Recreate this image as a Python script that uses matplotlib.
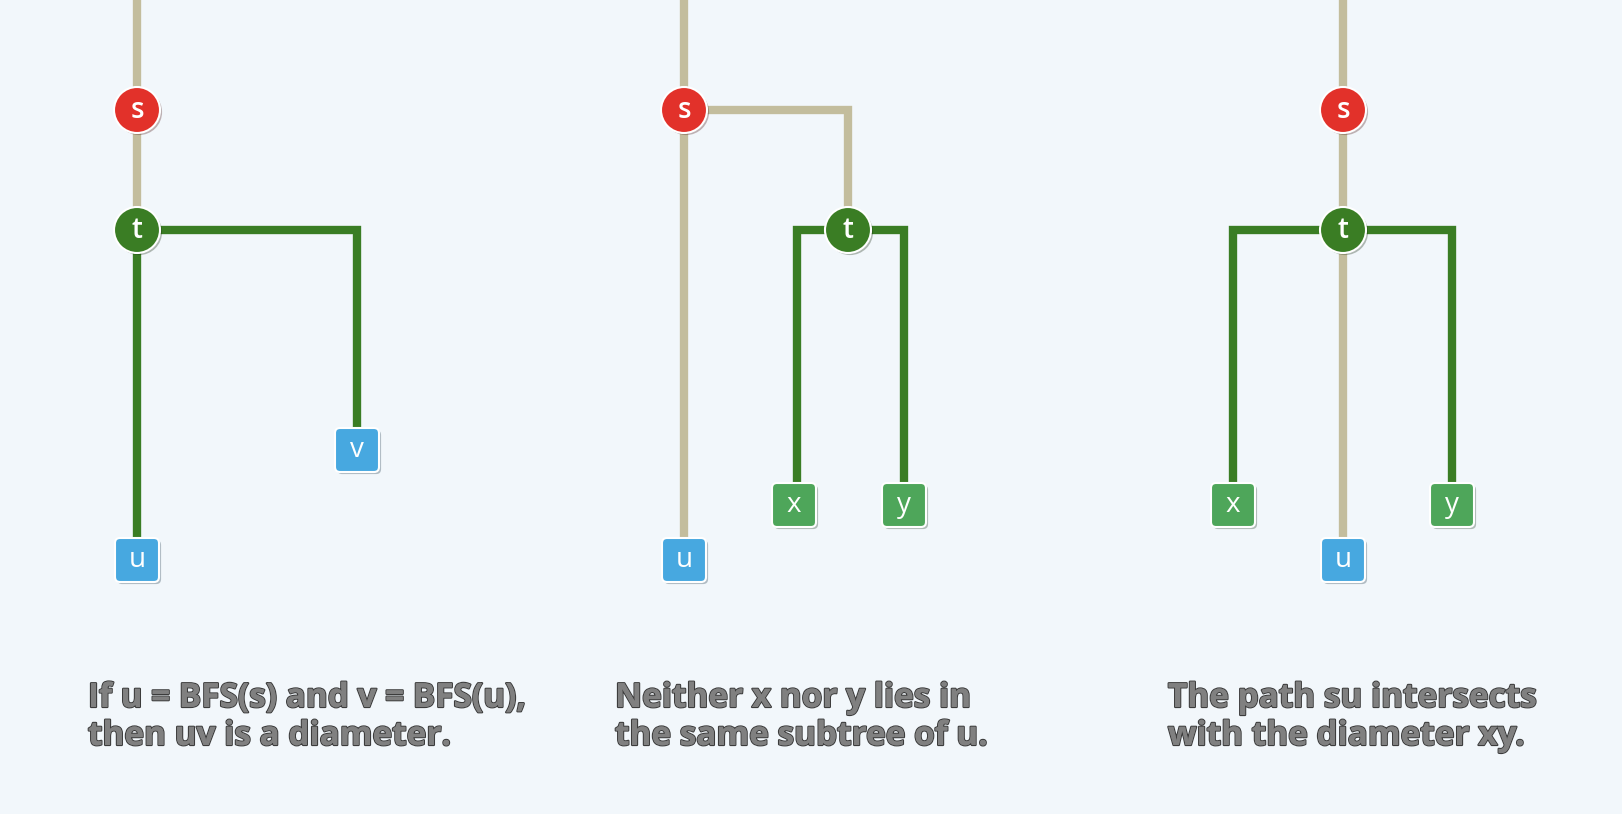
import matplotlib.pyplot as plt
from matplotlib.patches import Circle, FancyBboxPatch
import matplotlib.patheffects as pe

BG = '#f2f7fb'
BEIGE = '#c3bd9d'
DGREEN = '#3a7d24'
RED = '#e2312a'
BLUE = '#47a8e0'
LGREEN = '#4ea65a'

# edges per panel: (points, colour)
edges = [
    ([(137, 0), (137, 230)], BEIGE),
    ([(137, 230), (137, 545)], DGREEN),
    ([(137, 230), (357, 230), (357, 440)], DGREEN),
    ([(684, 0), (684, 545)], BEIGE),
    ([(684, 110), (848, 110), (848, 230)], BEIGE),
    ([(797, 490), (797, 230), (904, 230), (904, 490)], DGREEN),
    ([(1343, 0), (1343, 545)], BEIGE),
    ([(1233, 490), (1233, 230), (1452, 230), (1452, 490)], DGREEN),
]
# round nodes: (x, y, label, colour)
circles = [
    (137, 110, 's', RED), (137, 230, 't', DGREEN),
    (684, 110, 's', RED), (848, 230, 't', DGREEN),
    (1343, 110, 's', RED), (1343, 230, 't', DGREEN),
]
# square nodes
squares = [
    (137, 560, 'u', BLUE), (357, 450, 'v', BLUE),
    (684, 560, 'u', BLUE), (794, 505, 'x', LGREEN), (904, 505, 'y', LGREEN),
    (1343, 560, 'u', BLUE), (1233, 505, 'x', LGREEN), (1452, 505, 'y', LGREEN),
]
captions = [
    (88, "If u = BFS(s) and v = BFS(u),\nthen uv is a diameter."),
    (615, "Neither x nor y lies in\nthe same subtree of u."),
    (1168, "The path su intersects\nwith the diameter xy."),
]

fig = plt.figure(figsize=(16.22, 8.14), dpi=100)
fig.patch.set_facecolor(BG)
ax = fig.add_axes([0, 0, 1, 1])
ax.set_xlim(0, 1622)
ax.set_ylim(814, 0)
ax.axis('off')

for pts, col in edges:
    xs = [p[0] for p in pts]
    ys = [p[1] for p in pts]
    ax.plot(xs, ys, color=col, lw=6, solid_joinstyle='miter', solid_capstyle='butt', zorder=1)

shadow = [pe.SimplePatchShadow(offset=(1.5, -1.5), alpha=0.3), pe.Normal()]
for x, y, lab, col in circles:
    c = Circle((x, y), 23, facecolor=col, edgecolor='white', lw=1.5, zorder=3)
    c.set_path_effects(shadow)
    ax.add_patch(c)
    ax.text(x, y + 1, lab, color='white', fontsize=20, ha='center', va='center',
            family='Open Sans', fontweight='semibold', zorder=4)

for x, y, lab, col in squares:
    s = FancyBboxPatch((x - 20, y - 20), 40, 40, boxstyle='round,pad=2,rounding_size=5',
                       facecolor=col, edgecolor='white', lw=1.5, zorder=3)
    s.set_path_effects(shadow)
    ax.add_patch(s)
    ax.text(x, y, lab, color='white', fontsize=20, ha='center', va='center',
            family='Open Sans', zorder=4)

for x, txt in captions:
    ax.text(x, 682, txt, color='#808080', fontsize=24, ha='left', va='top',
            family='Open Sans', fontweight='bold', linespacing=1.2,
            path_effects=[pe.withStroke(linewidth=1.6, foreground='#3c3c3c'), pe.Normal()])

fig.savefig('out.png', dpi=100, facecolor=BG)
